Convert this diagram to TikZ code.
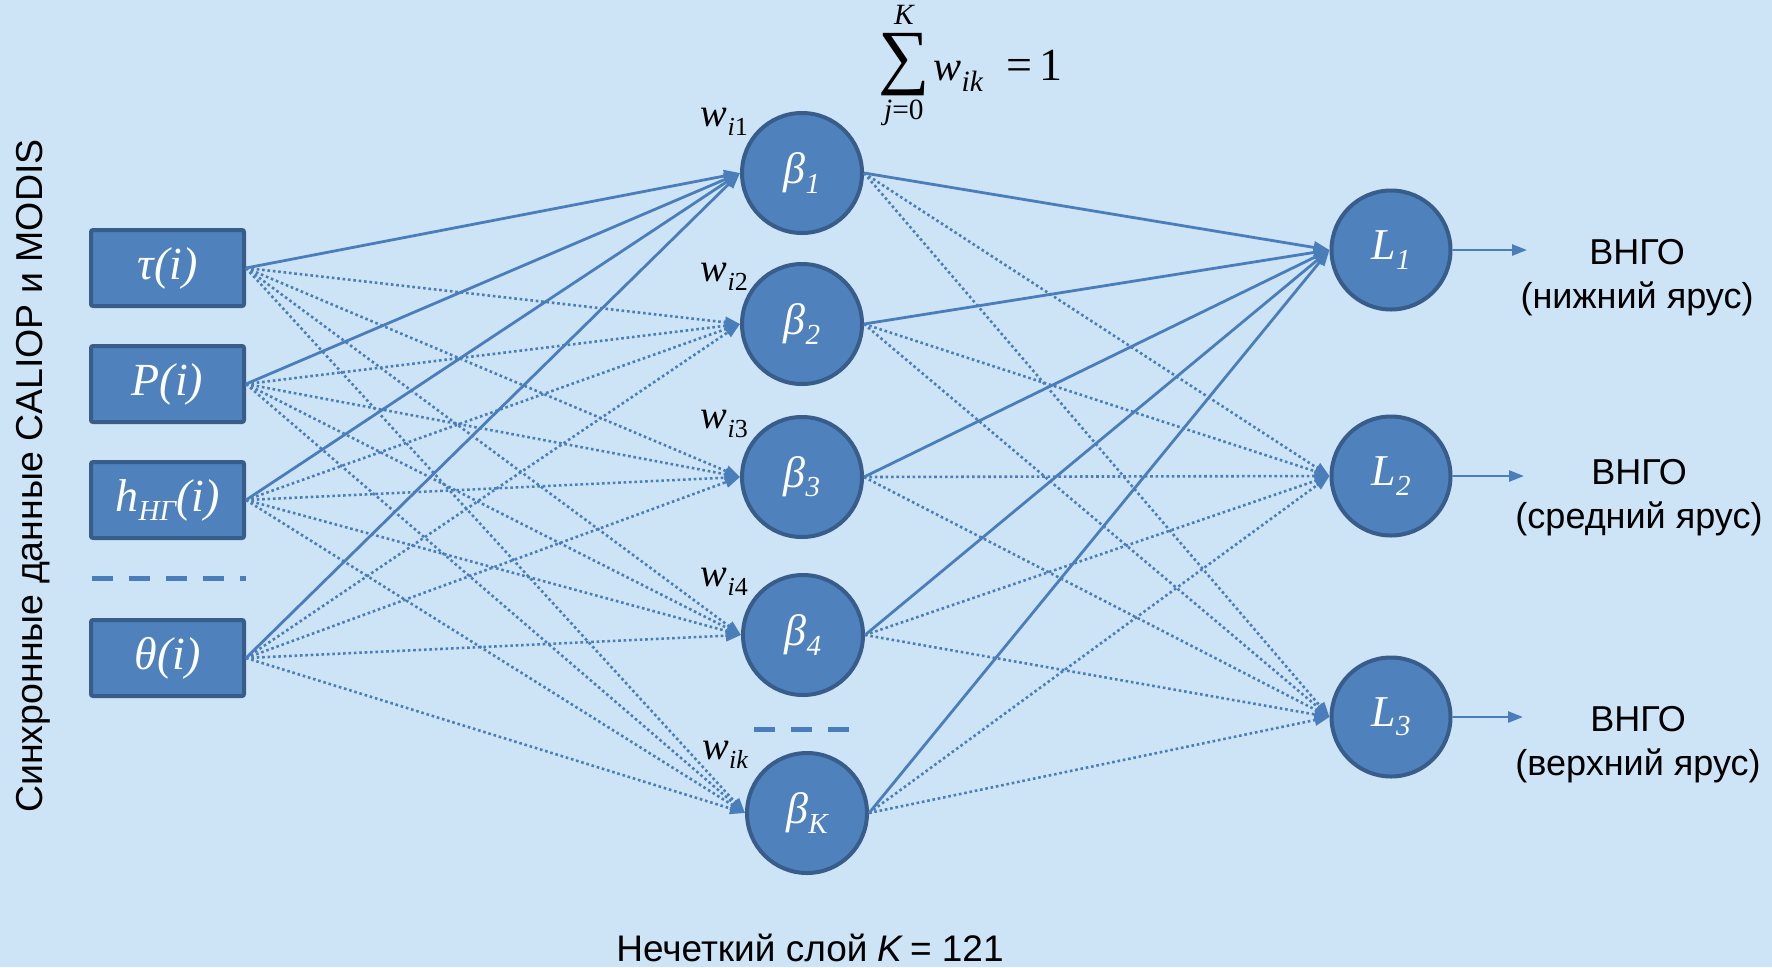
\documentclass[tikz,border=0pt]{standalone}
\usepackage{amsmath}
\usepackage{fontspec}
\setmainfont{Liberation Serif}
\newfontfamily\arialf{Liberation Sans}
\usetikzlibrary{arrows.meta}
\definecolor{bg}{RGB}{205,227,246}
\definecolor{nfill}{RGB}{79,129,189}
\definecolor{nborder}{RGB}{56,93,138}
\definecolor{lnk}{RGB}{74,126,187}
\newcommand\sbs[1]{\raisebox{-0.21em}{\fontsize{29}{29}\selectfont #1}}
\newcommand\wsb[1]{\raisebox{-0.24em}{\fontsize{26}{26}\selectfont #1}}
\begin{document}
\begin{tikzpicture}[x=1pt,y=-1pt,
  inbox/.style={draw=nborder, fill=nfill, line width=4pt, rounded corners=2pt,
    minimum width=153pt, minimum height=76pt, inner sep=0pt, text=white,
    font=\fontsize{46}{46}\selectfont\itshape},
  neuron/.style={circle, draw=nborder, fill=nfill, line width=4pt,
    minimum size=120pt, inner sep=0pt, text=white,
    font=\fontsize{44}{44}\selectfont\itshape},
  solidlink/.style={draw=lnk, line width=2.8pt, -{Triangle[length=16pt,width=12pt]}},
  dotlink/.style={draw=lnk, line width=2.6pt, dash pattern=on 2.6pt off 2.8pt,
    -{Triangle[length=15pt,width=11pt]}},
  outlink/.style={draw=lnk, line width=2.6pt, -{Triangle[length=15pt,width=11pt]}},
  wlabel/.style={anchor=base east, inner sep=0pt, text=black,
    font=\fontsize{40}{40}\selectfont\itshape},
  outlabel/.style={align=center, inner sep=0pt, text=black,
    font=\arialf\fontsize{36}{44}\selectfont},
  sepdash/.style={draw=lnk, line width=5pt, dash pattern=on 21pt off 16pt}
]
\fill[bg] (0,0) rectangle (1772,967);
\useasboundingbox (0,0) rectangle (1772,967);

% input boxes
\node[inbox] (tau)   at (167.5,268) {τ(i)};
\node[inbox] (P)     at (167.5,384) {P(i)};
\node[inbox] (h)     at (167.5,500) {h\sbs{НГ}(i)};
\node[inbox] (theta) at (167.5,658) {θ(i)};
\draw[sepdash] (92,578) -- (246,578);

% fuzzy layer
\node[neuron] (b1) at (802,173) {β\sbs{1}};
\node[neuron] (b2) at (802,324) {β\sbs{2}};
\node[neuron] (b3) at (802,477) {β\sbs{3}};
\node[neuron] (b4) at (803,635) {β\sbs{4}};
\node[neuron] (bK) at (807,813) {β\sbs{K}};
\draw[sepdash] (754,729) -- (850,729);

% outputs
\node[neuron, minimum size=119pt] (L1) at (1391,250) {L\sbs{1}};
\node[neuron, minimum size=119pt] (L2) at (1391,476) {L\sbs{2}};
\node[neuron, minimum size=119pt] (L3) at (1391,717) {L\sbs{3}};

% weights
\node[wlabel] (w1) at (748,126) {w\wsb{i\upshape 1}};
\node[wlabel] (w2) at (748,281) {w\wsb{i\upshape 2}};
\node[wlabel] (w3) at (748,428) {w\wsb{i\upshape 3}};
\node[wlabel] (w4) at (748,586) {w\wsb{i\upshape 4}};
\node[wlabel] (wk) at (748,759) {w\wsb{ik}};

% sum
\node[anchor=base west, inner sep=0pt, font=\fontsize{42}{42}\selectfont] (sum) at (878,80)
  {$\mathop{\text{\fontsize{72}{72}\selectfont ∑}}\limits_{\text{\itshape j}\text{=0}}^{\text{\raisebox{3pt}{\itshape K}}}\text{\itshape w}_{\text{\itshape ik}}\text{\fontsize{46}{46}\selectfont\ \ =\,1}$};

% links
\foreach \s in {tau,P,h,theta}{
  \foreach \t in {b2,b3,b4,bK} \draw[dotlink] (\s.east) -- (\t.west);
}
\foreach \s in {b1,b2,b3,b4,bK}{
  \foreach \t in {L2,L3} \draw[dotlink] (\s.east) -- (\t.west);
}
\foreach \s in {tau,P,h,theta} \draw[solidlink] (\s.east) -- (b1.west);
\foreach \s in {b1,b2,b3,b4,bK} \draw[solidlink] (\s.east) -- (L1.west);

% output arrows and labels
\coordinate (o1) at (1527,250);
\coordinate (o2) at (1524,476);
\coordinate (o3) at (1523,717);
\draw[outlink] (L1.east) -- (o1);
\draw[outlink] (L2.east) -- (o2);
\draw[outlink] (L3.east) -- (o3);
\node[outlabel] (t1) at (1637,278) {ВНГО\\(нижний ярус)};
\node[outlabel] (t2) at (1639,498) {ВНГО\\(средний ярус)};
\node[outlabel] (t3) at (1638,745) {ВНГО\\(верхний ярус)};

% side and bottom texts
\node[rotate=90, inner sep=0pt, font=\arialf\fontsize{37.5}{37.5}\selectfont] (side) at (33,476)
  {Синхронные данные CALIOP и MODIS};
\node[anchor=base, inner sep=0pt, font=\arialf\fontsize{37}{37}\selectfont] (layer) at (810,961)
  {Нечеткий слой \textit{K}\,= 121};
\end{tikzpicture}
\end{document}
